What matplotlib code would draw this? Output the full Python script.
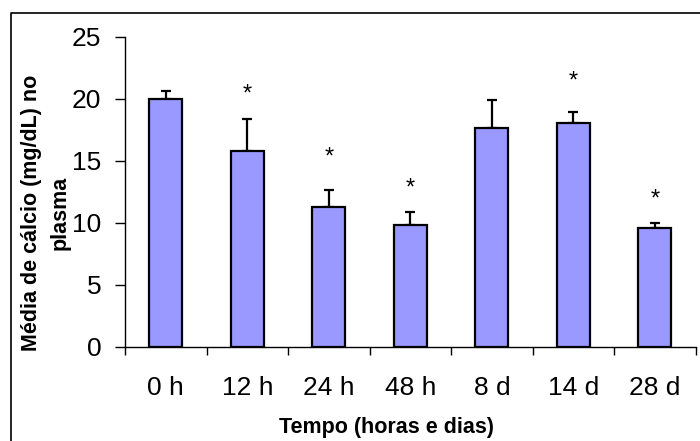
import matplotlib.pyplot as plt
from matplotlib.lines import Line2D
from matplotlib.ticker import FixedLocator

plt.rcParams['font.family'] = ['Liberation Sans', 'DejaVu Sans']

# Data
tempos = ['0 h', '12 h', '24 h', '48 h', '8 d', '14 d', '28 d']
medias = [19.95, 15.75, 11.25, 9.8, 17.6, 18.0, 9.55]
erros = [0.65, 2.6, 1.4, 1.05, 2.3, 0.95, 0.45]
asteriscos = [None, 20.8, 15.7, 13.2, None, 21.8, 12.3]

fig = plt.figure(figsize=(7, 4.41), dpi=100)
ax = fig.add_axes([0.1786, 0.2138, 0.8153, 0.7030])

x = list(range(len(tempos)))
ax.bar(x, medias, width=0.405, color='#9999FF', edgecolor='black', linewidth=1.6, zorder=2)
ax.errorbar(x, medias, yerr=[[0] * len(erros), erros], fmt='none', ecolor='black',
            elinewidth=1.6, capsize=3.6, capthick=1.6, zorder=1)

for xi, ya in zip(x, asteriscos):
    if ya is not None:
        ax.text(xi, ya - 0.45, '*', ha='center', va='center', fontsize=17)

ax.set_xlim(-0.5, len(tempos) - 0.5)
ax.set_ylim(0, 25)
ax.set_yticks([0, 5, 10, 15, 20, 25])
ax.tick_params(axis='y', direction='out', length=7, width=1, labelsize=19, pad=10)

ax.set_xticks(x)
ax.set_xticklabels(tempos)
ax.xaxis.set_minor_locator(FixedLocator([i - 0.5 for i in range(len(tempos) + 1)]))
ax.tick_params(axis='x', which='major', length=0, labelsize=19, pad=21)
ax.tick_params(axis='x', which='minor', direction='out', length=6, width=1)

for s in ['top', 'right']:
    ax.spines[s].set_visible(False)
for s in ['left', 'bottom']:
    ax.spines[s].set_linewidth(1)

fig.text(0.552, 1 - 427 / 441, 'Tempo (horas e dias)', ha='center', va='center',
         fontsize=15.5, fontweight='bold')
fig.text(46 / 700, 1 - 213 / 441, 'Média de cálcio (mg/dL) no\nplasma', rotation=90,
         ha='center', va='center', fontsize=15.5, fontweight='bold', multialignment='center',
         linespacing=1.45)

# outer chart border (cropped on right and bottom)
bx = 11 / 700
by = 1 - 13 / 441
fig.add_artist(Line2D([bx, bx, 1.0], [0, by, by], transform=fig.transFigure,
                      color='black', linewidth=1.2))

fig.savefig('out.png', dpi=100)
